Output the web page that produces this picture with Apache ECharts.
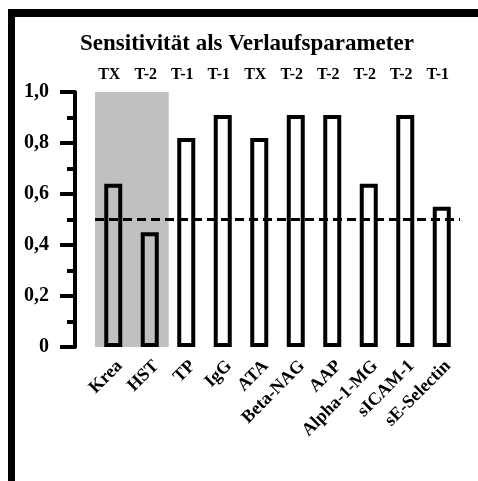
<!DOCTYPE html>
<html>
<head>
<meta charset="utf-8">
<script src="https://cdn.jsdelivr.net/npm/echarts@6/dist/echarts.min.js"></script>
<style>
  html, body { margin: 0; padding: 0; background: #fff; }
  #chart { position: absolute; left: 0; top: 0; width: 478px; height: 481px; }
  /* heavy frame along the left and top edges */
  #frame {
    position: absolute; left: 8px; top: 9px; right: -20px; bottom: -20px;
    border-left: 7px solid #000; border-top: 8px solid #000;
    pointer-events: none;
  }
</style>
</head>
<body>
<div id="chart"></div>
<div id="frame"></div>
<script>
// Parameters on the category axis
const categories = ['Krea', 'HST', 'TP', 'IgG', 'ATA', 'Beta-NAG', 'AAP', 'Alpha-1-MG', 'sICAM-1', 'sE-Selectin'];
// Sensitivity of each parameter
const sensitivity = [0.64, 0.45, 0.82, 0.91, 0.82, 0.91, 0.91, 0.64, 0.91, 0.55];
// Group label shown above each bar
const groupLabels = ['TX', 'T-2', 'T-1', 'T-1', 'TX', 'T-2', 'T-2', 'T-2', 'T-2', 'T-1'];
// Shaded reference block (Krea, HST)
const shadedBlock = [1, 1, null, null, null, null, null, null, null, null];
// Threshold line
const threshold = 0.5;
// Y axis range
const yMin = 0, yMax = 1, yStep = 0.2;

const FONT = 'Liberation Serif';
const GREY = '#c0c0c0';

const chart = echarts.init(document.getElementById('chart'), null, { renderer: 'canvas' });

chart.setOption({
  backgroundColor: '#ffffff',
  animation: false,
  title: {
    text: 'Sensitivität als Verlaufsparameter',
    left: 80,
    top: 33,
    padding: 0,
    textStyle: { fontFamily: FONT, fontWeight: 'bold', fontSize: 23, color: '#000' }
  },
  grid: { left: 95, right: 18, top: 92, bottom: 134, containLabel: false },
  xAxis: [
    {
      type: 'category',
      data: categories,
      position: 'bottom',
      axisLine: { show: false },
      axisTick: { show: false },
      axisLabel: {
        interval: 0,
        rotate: 45,
        align: 'right',
        verticalAlign: 'top',
        margin: 10,
        padding: [0, 0, 0, 0],
        fontFamily: FONT, fontWeight: 'bold', fontSize: 18, color: '#000'
      }
    },
    {
      type: 'category',
      data: categories,
      position: 'top',
      axisLine: { show: false },
      axisTick: { show: false },
      axisLabel: {
        interval: 0,
        margin: 9,
        padding: [0, 8, 0, 0],
        formatter: (v, i) => groupLabels[i],
        fontFamily: FONT, fontWeight: 'bold', fontSize: 16, color: '#000'
      }
    }
  ],
  yAxis: {
    type: 'value',
    min: yMin, max: yMax, interval: yStep,
    offset: 20,
    splitLine: { show: false },
    axisLine: { show: true, lineStyle: { color: '#000', width: 4 } },
    axisTick: { show: true, length: 15, lineStyle: { color: '#000', width: 4 } },
    minorTick: { show: true, splitNumber: 2, length: 8, lineStyle: { color: '#000', width: 4 } },
    axisLabel: {
      margin: 26,
      formatter: v => (v === 0 ? '0' : v.toFixed(1).replace('.', ',')),
      fontFamily: FONT, fontWeight: 'bold', fontSize: 20, color: '#000'
    }
  },
  series: [
    {
      // grey backdrop spanning the shaded categories
      type: 'bar',
      xAxisIndex: 1,
      data: shadedBlock,
      barWidth: '104%',
      silent: true,
      z: 1,
      itemStyle: { color: GREY }
    },
    {
      type: 'bar',
      xAxisIndex: 0,
      data: sensitivity,
      barWidth: 18,
      z: 3,
      itemStyle: { color: 'transparent', borderColor: '#000', borderWidth: 4 },
      markLine: {
        silent: true,
        symbol: 'none',
        label: { show: false },
        lineStyle: { color: '#000', width: 3, type: [9, 5] },
        data: [{ yAxis: threshold }]
      }
    }
  ]
});
</script>
</body>
</html>
